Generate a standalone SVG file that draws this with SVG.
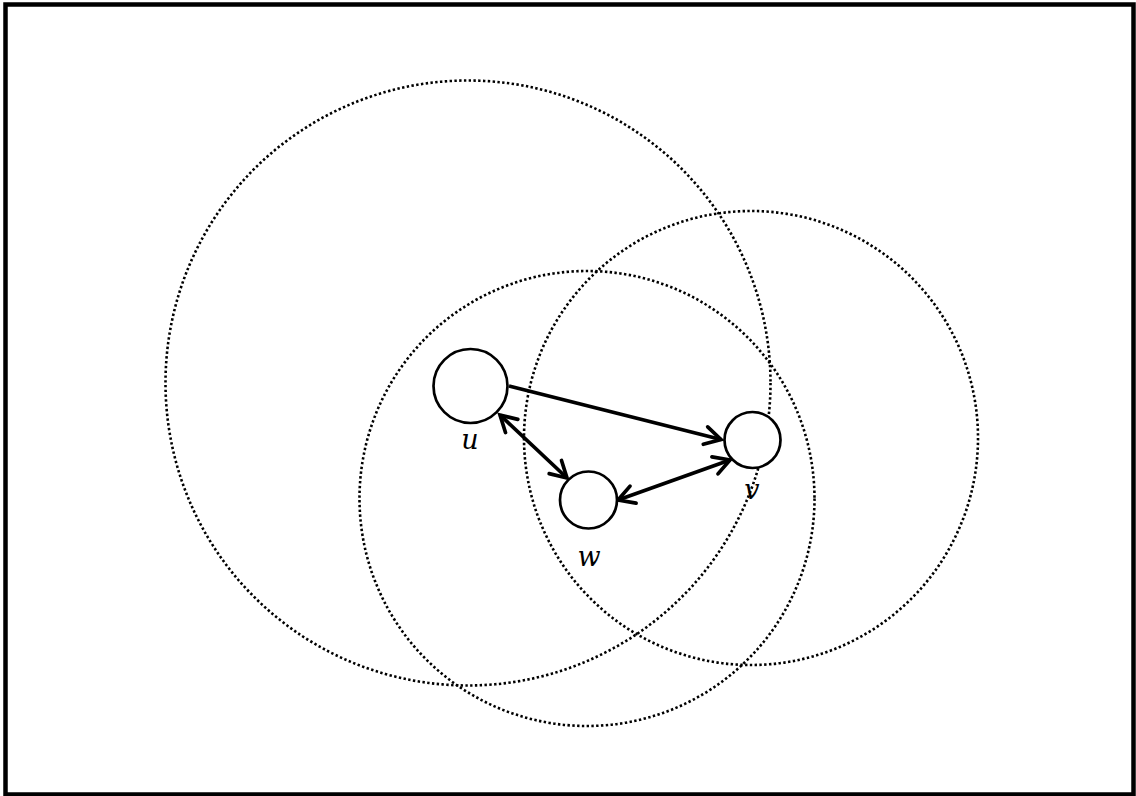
<svg xmlns="http://www.w3.org/2000/svg" width="1136" height="796" viewBox="0 0 1136 796">
<style>
.range{fill:none;stroke:#000;stroke-width:2.6;stroke-dasharray:2.4 2.4}
.node{fill:#fff;stroke:#000;stroke-width:2.7}
.edge{fill:none;stroke:#000;stroke-width:3.7}
.lbl{font-family:"DejaVu Serif","Liberation Serif",serif;font-style:italic;font-size:27px;fill:#000;text-anchor:middle}
</style>
<defs>
<marker id="ah" markerUnits="userSpaceOnUse" viewBox="-20 -12 24 24" refX="0" refY="0" markerWidth="24" markerHeight="24" orient="auto-start-reverse">
<path d="M-16,-9 L0,0 L-16,9" fill="none" stroke="#000" stroke-width="3.7" stroke-linecap="round" stroke-linejoin="miter"/>
</marker>
</defs>
<rect x="5.5" y="4.5" width="1128" height="790" fill="#fff" stroke="#000" stroke-width="4.5"/>
<g id="ranges">
<circle class="range" cx="468" cy="383" r="302.5"/>
<circle class="range" cx="751" cy="438" r="227"/>
<circle class="range" cx="587" cy="498.5" r="227.5"/>
</g>
<g id="connectors">
<line class="edge" x1="509" y1="386" x2="721" y2="439.5" marker-end="url(#ah)"/>
<line class="edge" x1="500" y1="415" x2="567" y2="478" marker-start="url(#ah)" marker-end="url(#ah)"/>
<line class="edge" x1="618" y1="500" x2="730" y2="460" marker-start="url(#ah)" marker-end="url(#ah)"/>
</g>
<g id="node-u">
<circle class="node" cx="470.5" cy="386" r="37"/>
<text class="lbl" x="470" y="449">u</text>
</g>
<g id="node-v">
<circle class="node" cx="752.5" cy="440" r="28"/>
<text class="lbl" x="752" y="499">v</text>
</g>
<g id="node-w">
<circle class="node" cx="588.5" cy="500" r="28.5"/>
<text class="lbl" x="589" y="566">w</text>
</g>
</svg>
